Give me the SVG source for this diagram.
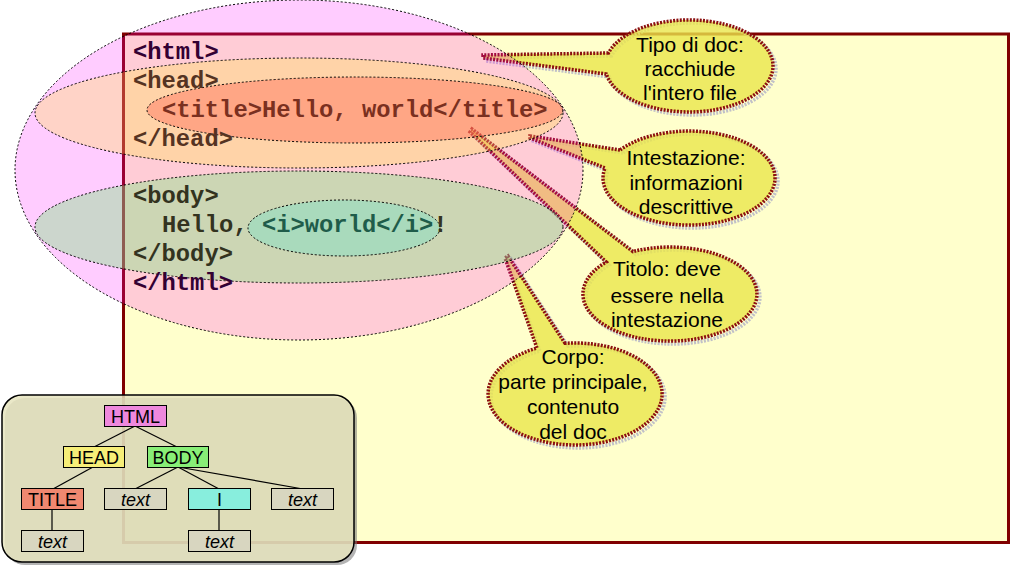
<svg xmlns="http://www.w3.org/2000/svg" width="1010" height="566" viewBox="0 0 1010 566">
<style>
.code{font-family:"Liberation Mono","Courier New",monospace;font-weight:bold;font-size:23.8px}
.ct{font-family:"Liberation Sans",Arial,sans-serif;font-size:21px;fill:#000;text-anchor:middle}
.tn{font-family:"Liberation Sans",Arial,sans-serif;font-size:18px;fill:#000;text-anchor:middle}
.it{font-style:italic}
.ell{stroke:#000;stroke-width:1;stroke-dasharray:2 2}
.call{fill:#eae64b;fill-opacity:0.8;stroke:#8b1010;stroke-width:3.5;stroke-dasharray:2 1.3}
.shadow{fill:none;stroke:#c0c0c8;stroke-width:3.5;stroke-dasharray:2 1.3}
.node{stroke:#000;stroke-width:1}
.edge{stroke:#000;stroke-width:1.2;fill:none}
</style>
<rect x="0" y="0" width="1010" height="566" fill="#ffffff"/>
<g id="frame">
<rect x="123.5" y="34" width="885" height="508.5" fill="#ffffcc" stroke="#800000" stroke-width="3"/>
</g>
<g id="callout-doc">
<path class="shadow" transform="translate(3,3)" d="M608.4,53 L483,55 L483,58 L606.3,74 A84,46 0 1 0 608.4,53 Z"/>
<path class="call" d="M608.4,53 L483,55 L483,58 L606.3,74 A84,46 0 1 0 608.4,53 Z"/>
<text class="ct" x="690" y="52">Tipo di doc:</text>
<text class="ct" x="690" y="76">racchiude</text>
<text class="ct" x="690" y="100">l'intero file</text>
</g>
<g id="callout-head">
<path class="shadow" transform="translate(3,3)" d="M620,150 L530,136 L530,138 L605,168 A86,47 0 1 0 620,150 Z"/>
<path class="call" d="M620,150 L530,136 L530,138 L605,168 A86,47 0 1 0 620,150 Z"/>
<text class="ct" x="686" y="165">Intestazione:</text>
<text class="ct" x="686" y="190">informazioni</text>
<text class="ct" x="686" y="214">descrittive</text>
</g>
<g id="callout-title">
<path class="shadow" transform="translate(3,3)" d="M633,251.5 L472,129 L470,132 L606.3,262 A87,47 0 1 0 633,251.5 Z"/>
<path class="call" d="M633,251.5 L472,129 L470,132 L606.3,262 A87,47 0 1 0 633,251.5 Z"/>
<text class="ct" x="667" y="276">Titolo: deve</text>
<text class="ct" x="667" y="303">essere nella</text>
<text class="ct" x="667" y="327">intestazione</text>
</g>
<g id="callout-body">
<path class="shadow" transform="translate(3,3)" d="M565,343.3 L508,256 L505,258 L537,348.1 A87,51 0 1 0 565,343.3 Z"/>
<path class="call" d="M565,343.3 L508,256 L505,258 L537,348.1 A87,51 0 1 0 565,343.3 Z"/>
<text class="ct" x="573" y="364">Corpo:</text>
<text class="ct" x="573" y="389">parte principale,</text>
<text class="ct" x="573" y="414">contenuto</text>
<text class="ct" x="573" y="439">del doc</text>
</g>
<g id="ellipses">
<ellipse id="e-html" class="ell" cx="299" cy="170" rx="284" ry="170" fill="#ff00ff" fill-opacity="0.2"/>
<ellipse id="e-head" class="ell" cx="299" cy="113" rx="264" ry="55" fill="#ffe81e" fill-opacity="0.25"/>
<ellipse id="e-title" class="ell" cx="355" cy="110" rx="208" ry="33" fill="#ff6450" fill-opacity="0.4"/>
<ellipse id="e-body" class="ell" cx="299" cy="227" rx="264" ry="56" fill="#80e682" fill-opacity="0.4"/>
<ellipse id="e-i" class="ell" cx="344" cy="228" rx="96" ry="28" fill="#40e6d2" fill-opacity="0.25"/>
</g>
<g id="code">
<text class="code" x="133" y="59" fill="#330033">&lt;html&gt;</text>
<text class="code" x="133" y="88" fill="#553322">&lt;head&gt;</text>
<text class="code" x="162" y="117" fill="#7a3020">&lt;title&gt;Hello, world&lt;/title&gt;</text>
<text class="code" x="133" y="146" fill="#553322">&lt;/head&gt;</text>
<text class="code" x="133" y="203" fill="#33331f">&lt;body&gt;</text>
<text class="code" x="162" y="232" fill="#33331f">Hello, <tspan fill="#1f5c4a">&lt;i&gt;world&lt;/i&gt;</tspan>!</text>
<text class="code" x="133" y="261" fill="#33331f">&lt;/body&gt;</text>
<text class="code" x="133" y="290" fill="#330033">&lt;/html&gt;</text>
</g>
<g id="tree">
<rect x="5" y="398" width="352" height="167" rx="20" fill="#777" fill-opacity="0.55"/>
<rect x="2" y="395" width="352" height="167" rx="20" fill="#e6e4be" fill-opacity="0.85" stroke="#000" stroke-width="1.5"/>
<g id="tree-edges">
<line class="edge" x1="135" y1="426" x2="94" y2="447"/>
<line class="edge" x1="135" y1="426" x2="177" y2="447"/>
<line class="edge" x1="93" y1="467" x2="53" y2="489"/>
<line class="edge" x1="178" y1="467" x2="135" y2="489"/>
<line class="edge" x1="178" y1="467" x2="219" y2="489"/>
<line class="edge" x1="178" y1="467" x2="303" y2="489"/>
<line class="edge" x1="52" y1="509" x2="52" y2="530"/>
<line class="edge" x1="219" y1="509" x2="219" y2="530"/>
</g>
<g id="n-html"><rect class="node" x="104.5" y="405.5" width="62" height="21" fill="#ee88dd"/><text class="tn" x="135.5" y="422.5">HTML</text></g>
<g id="n-head"><rect class="node" x="63.5" y="446.5" width="61" height="21" fill="#f6ee78"/><text class="tn" x="94" y="463.5">HEAD</text></g>
<g id="n-body"><rect class="node" x="147.5" y="446.5" width="61" height="21" fill="#88ee77"/><text class="tn" x="178" y="463.5">BODY</text></g>
<g id="n-title"><rect class="node" x="21.5" y="488.5" width="62" height="21" fill="#f08870"/><text class="tn" x="52.5" y="505.5">TITLE</text></g>
<g id="n-text1"><rect class="node" x="104.5" y="488.5" width="62" height="21" fill="#d8d6c0"/><text class="tn it" x="135.5" y="505.5">text</text></g>
<g id="n-i"><rect class="node" x="188.5" y="488.5" width="62" height="21" fill="#88eedd"/><text class="tn" x="219.5" y="505.5">I</text></g>
<g id="n-text2"><rect class="node" x="271.5" y="488.5" width="62" height="21" fill="#d8d6c0"/><text class="tn it" x="302.5" y="505.5">text</text></g>
<g id="n-text3"><rect class="node" x="21.5" y="530.5" width="62" height="21" fill="#d8d6c0"/><text class="tn it" x="52.5" y="547.5">text</text></g>
<g id="n-text4"><rect class="node" x="188.5" y="530.5" width="62" height="21" fill="#d8d6c0"/><text class="tn it" x="219.5" y="547.5">text</text></g>
</g>
</svg>
